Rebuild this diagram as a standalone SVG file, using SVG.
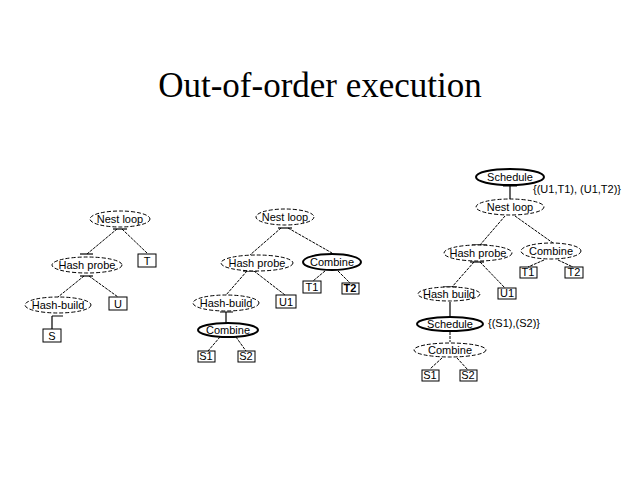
<svg xmlns="http://www.w3.org/2000/svg" width="640" height="480" viewBox="0 0 640 480">
<style>
.title{font-family:"Liberation Serif","Times New Roman",serif;font-size:35px;fill:#000}
.lbl{font-family:"Liberation Sans",Arial,sans-serif;font-size:11px;fill:#000;text-anchor:middle}
.lft{font-family:"Liberation Sans",Arial,sans-serif;font-size:11px;fill:#000}
.op{fill:#fff;stroke:#000;stroke-width:1;stroke-dasharray:4 2}
.bold{fill:#fff;stroke:#000;stroke-width:2}
.leaf{fill:none;stroke:#000;stroke-width:1}
.edge{stroke:#000;stroke-width:1;stroke-dasharray:3 1;fill:none}
.tee{stroke:#000;stroke-width:1.2;fill:none}
</style>
<rect width="640" height="480" fill="#fff"/>
<text class="title" x="320" y="97" text-anchor="middle">Out-of-order execution</text>

<g id="connectors">
  <!-- left tree -->
  <path class="tee" d="M113 229H127"/>
  <path class="edge" d="M117 229L87 254M122 229L147 253"/>
  <path class="tee" d="M80 254H93"/>
  <path class="tee" d="M80 276H93"/>
  <path class="edge" d="M84 276L58 297M89 276L118 297"/>
  <path class="tee" d="M52 316H63M52 316V329"/>
  <!-- middle tree -->
  <path class="tee" d="M278 228H292"/>
  <path class="edge" d="M281 228L250 255M288 228L332 253"/>
  <path class="tee" d="M243 271H257"/>
  <path class="edge" d="M247 271L226 295M254 271L285 295"/>
  <path class="edge" d="M325 271L313 281M338 271L350 283"/>
  <path class="tee" d="M220 312H233M226 312V323"/>
  <path class="edge" d="M220 337L208 351M236 337L246 351"/>
  <!-- right tree -->
  <path class="tee" d="M503 186H517M510 186V199"/>
  <path class="edge" d="M505 216L480 245M515 216L553 243"/>
  <path class="tee" d="M472 245H487"/>
  <path class="tee" d="M470 262H484"/>
  <path class="edge" d="M474 262L452 287M480 262L505 288"/>
  <path class="edge" d="M544 260L528 267M558 260L573 267"/>
  <path class="tee" d="M443 287H457"/>
  <path class="tee" d="M450 302V316"/>
  <path class="edge" d="M450 332V342"/>
  <path class="edge" d="M442 358L430 369M457 358L468 370"/>
</g>

<g id="left-nestloop"><ellipse class="op" cx="120" cy="219" rx="30" ry="8"/><text class="lbl" x="120" y="223">Nest loop</text></g>
<g id="left-hashprobe"><ellipse class="op" cx="87" cy="265" rx="35" ry="8"/><text class="lbl" x="87" y="269">Hash probe</text></g>
<g id="left-hashbuild"><ellipse class="op" cx="58" cy="305" rx="33" ry="8"/><text class="lbl" x="58" y="309">Hash-build</text></g>
<g id="left-T"><rect class="leaf" x="138" y="254" width="18" height="13"/><text class="lbl" x="147" y="265">T</text></g>
<g id="left-U"><rect class="leaf" x="109" y="297" width="18" height="13"/><text class="lbl" x="118" y="308">U</text></g>
<g id="left-S"><rect class="leaf" x="43" y="329" width="18" height="13"/><text class="lbl" x="52" y="340">S</text></g>

<g id="mid-nestloop"><ellipse class="op" cx="285" cy="217" rx="29" ry="8"/><text class="lbl" x="285" y="221">Nest loop</text></g>
<g id="mid-hashprobe"><ellipse class="op" cx="257" cy="263" rx="36" ry="8"/><text class="lbl" x="257" y="267">Hash probe</text></g>
<g id="mid-combine1"><ellipse class="bold" cx="332" cy="262" rx="29" ry="8"/><text class="lbl" x="332" y="266">Combine</text></g>
<g id="mid-hashbuild"><ellipse class="op" cx="226" cy="303" rx="33" ry="8"/><text class="lbl" x="226" y="307">Hash-build</text></g>
<g id="mid-U1"><rect class="leaf" x="276" y="295" width="20" height="13"/><text class="lbl" x="286" y="306">U1</text></g>
<g id="mid-T1"><rect class="leaf" x="303" y="281" width="18" height="12"/><text class="lbl" x="312" y="291">T1</text></g>
<g id="mid-T2"><rect class="leaf" x="342" y="283" width="17" height="11"/><text class="lbl" x="350" y="292" font-weight="bold">T2</text></g>
<g id="mid-combine2"><ellipse class="bold" cx="228" cy="330" rx="30" ry="7"/><text class="lbl" x="228" y="334">Combine</text></g>
<g id="mid-S1"><rect class="leaf" x="198" y="351" width="17" height="11"/><text class="lbl" x="206" y="360">S1</text></g>
<g id="mid-S2"><rect class="leaf" x="238" y="351" width="17" height="11"/><text class="lbl" x="246" y="360">S2</text></g>

<g id="right-schedule1"><ellipse class="bold" cx="510" cy="177" rx="34" ry="8"/><text class="lbl" x="510" y="181">Schedule</text><text class="lft" x="533" y="193">{(U1,T1), (U1,T2)}</text></g>
<g id="right-nestloop"><ellipse class="op" cx="510" cy="207" rx="34" ry="8"/><text class="lbl" x="510" y="211">Nest loop</text></g>
<g id="right-hashprobe"><ellipse class="op" cx="478" cy="253" rx="34" ry="8"/><text class="lbl" x="478" y="257">Hash probe</text></g>
<g id="right-combine1"><ellipse class="op" cx="551" cy="251" rx="30" ry="8"/><text class="lbl" x="551" y="255">Combine</text></g>
<g id="right-T1"><rect class="leaf" x="520" y="267" width="17" height="11"/><text class="lbl" x="528" y="276">T1</text></g>
<g id="right-T2"><rect class="leaf" x="565" y="267" width="18" height="11"/><text class="lbl" x="574" y="276">T2</text></g>
<g id="right-hashbuild"><ellipse class="op" cx="449" cy="294" rx="31" ry="7"/><text class="lbl" x="449" y="298">Hash build</text></g>
<g id="right-U1"><rect class="leaf" x="498" y="288" width="18" height="11"/><text class="lbl" x="507" y="297">U1</text></g>
<g id="right-schedule2"><ellipse class="bold" cx="450" cy="324" rx="33" ry="7"/><text class="lbl" x="450" y="328">Schedule</text><text class="lft" x="488" y="327">{(S1),(S2)}</text></g>
<g id="right-combine2"><ellipse class="op" cx="450" cy="350" rx="36" ry="7"/><text class="lbl" x="450" y="354">Combine</text></g>
<g id="right-S1"><rect class="leaf" x="422" y="370" width="17" height="11"/><text class="lbl" x="430" y="379">S1</text></g>
<g id="right-S2"><rect class="leaf" x="460" y="370" width="17" height="11"/><text class="lbl" x="468" y="379">S2</text></g>
</svg>
